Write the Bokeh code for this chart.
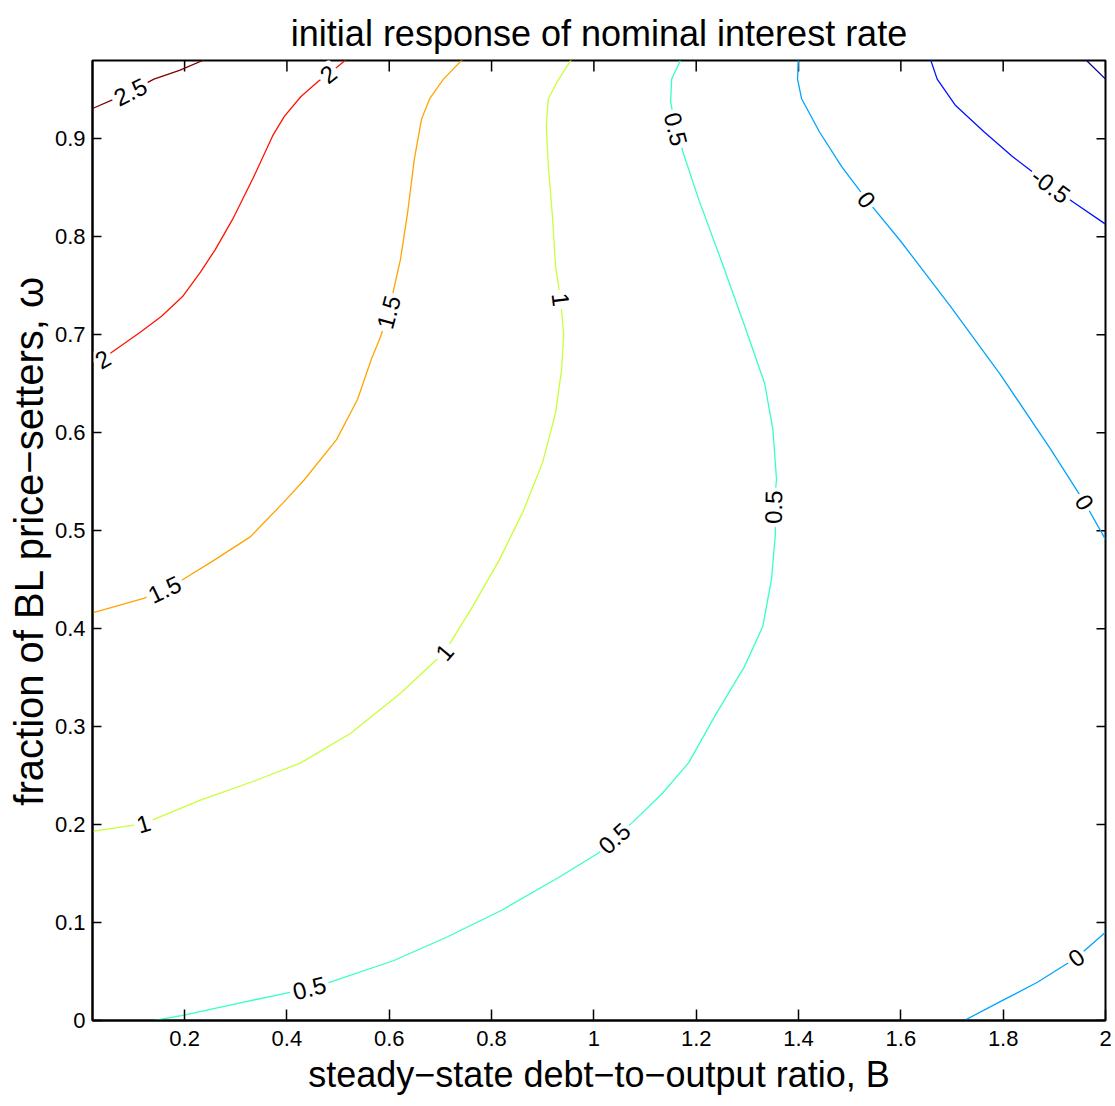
import math
from bokeh.plotting import figure
from bokeh.models import FixedTicker, CustomJSTickFormatter, Range1d, ColumnDataSource
from bokeh.core.properties import value
from bokeh.embed import file_html
from bokeh.resources import INLINE

# ---------------- data ----------------
title_text = "initial response of nominal interest rate"
x_label = "steady\u2212state debt\u2212to\u2212output ratio, B"
y_label = "fraction of BL price\u2212setters, \u03c9"

x_ticks = [0.2, 0.4, 0.6, 0.8, 1.0, 1.2, 1.4, 1.6, 1.8, 2.0]
y_ticks = [0.0, 0.1, 0.2, 0.3, 0.4, 0.5, 0.6, 0.7, 0.8, 0.9]
x_min, x_max = 0.02, 2.0
y_min, y_max = 0.0, 0.98

# contour level -1
c_m10_x = [1.961, 2.0]
c_m10_y = [0.981, 0.961]
# contour level -0.5
c_m05_x = [1.658, 1.671, 1.707, 1.763, 1.818, 1.893, 1.938, 2.0]
c_m05_y = [0.981, 0.961, 0.934, 0.907, 0.882, 0.852, 0.835, 0.813]
# contour level 0 (upper branch)
c_0a_x = [1.400, 1.398, 1.406, 1.441, 1.484, 1.533, 1.599, 1.697, 1.795, 1.893, 1.959, 2.0]
c_0a_y = [0.981, 0.961, 0.941, 0.907, 0.872, 0.838, 0.796, 0.729, 0.659, 0.583, 0.529, 0.491]
# contour level 0 (lower branch)
c_0b_x = [1.724, 1.797, 1.867, 1.943, 2.0]
c_0b_y = [0.0, 0.020, 0.039, 0.064, 0.090]
# contour level 0.5
c_05_x = [0.140, 0.194, 0.300, 0.399, 0.444, 0.483, 0.608, 0.712, 0.818, 0.931, 1.009, 1.040, 1.075,
          1.134, 1.185, 1.240, 1.294, 1.330, 1.347, 1.355, 1.351, 1.357, 1.350, 1.334, 1.294, 1.253,
          1.205, 1.177, 1.160, 1.150, 1.152, 1.169]
c_05_y = [0.0, 0.005, 0.017, 0.028, 0.033, 0.039, 0.061, 0.085, 0.112, 0.146, 0.171, 0.186, 0.202,
          0.232, 0.263, 0.314, 0.361, 0.402, 0.450, 0.498, 0.524, 0.552, 0.603, 0.650, 0.710, 0.770,
          0.838, 0.882, 0.910, 0.938, 0.961, 0.980]
# contour level 1
c_10_x = [0.02, 0.120, 0.231, 0.339, 0.427, 0.524, 0.622, 0.708, 0.760, 0.815, 0.862, 0.900, 0.925,
          0.937, 0.941, 0.935, 0.925, 0.919, 0.911, 0.907, 0.911, 0.929, 0.956]
c_10_y = [0.193, 0.201, 0.225, 0.245, 0.263, 0.293, 0.334, 0.376, 0.420, 0.470, 0.520, 0.570, 0.620,
          0.665, 0.700, 0.736, 0.770, 0.821, 0.872, 0.913, 0.941, 0.959, 0.981]
# contour level 1.5
c_15_x = [0.02, 0.120, 0.161, 0.196, 0.258, 0.329, 0.399, 0.434, 0.497, 0.538, 0.565, 0.583, 0.599,
          0.612, 0.622, 0.636, 0.649, 0.663, 0.679, 0.706, 0.743]
c_15_y = [0.416, 0.431, 0.440, 0.450, 0.470, 0.494, 0.532, 0.552, 0.593, 0.634, 0.675, 0.698, 0.723,
          0.754, 0.777, 0.825, 0.879, 0.920, 0.941, 0.961, 0.981]
# contour level 2
c_20_x = [0.02, 0.040, 0.057, 0.112, 0.155, 0.196, 0.231, 0.260, 0.294, 0.334, 0.372, 0.395, 0.427,
          0.462, 0.481, 0.516]
c_20_y = [0.671, 0.675, 0.682, 0.702, 0.719, 0.739, 0.764, 0.787, 0.818, 0.860, 0.903, 0.923, 0.943,
          0.959, 0.966, 0.981]
# contour level 2.5
c_25_x = [0.02, 0.06, 0.094, 0.14, 0.19, 0.24]
c_25_y = [0.931, 0.940, 0.948, 0.961, 0.970, 0.981]

contour_levels = [-1.0, -0.5, 0.0, 0.0, 0.5, 1.0, 1.5, 2.0, 2.5]
contour_xs = [c_m10_x, c_m05_x, c_0a_x, c_0b_x, c_05_x, c_10_x, c_15_x, c_20_x, c_25_x]
contour_ys = [c_m10_y, c_m05_y, c_0a_y, c_0b_y, c_05_y, c_10_y, c_15_y, c_20_y, c_25_y]

# inline contour labels (position on the line, text)
label_x = [0.094, 0.040, 0.481, 0.161, 0.599, 0.120, 0.708, 0.935, 0.444, 1.040, 1.351, 1.160,
           1.533, 1.959, 1.943, 1.893]
label_y = [0.948, 0.675, 0.966, 0.440, 0.723, 0.201, 0.376, 0.736, 0.033, 0.186, 0.524, 0.910,
           0.838, 0.529, 0.064, 0.852]
label_level = [2.5, 2.0, 2.0, 1.5, 1.5, 1.0, 1.0, 1.0, 0.5, 0.5, 0.5, 0.5, 0.0, 0.0, 0.0, -0.5]
label_text = ["2.5", "2", "2", "1.5", "1.5", "1", "1", "1", "0.5", "0.5", "0.5", "0.5",
              "0", "0", "0", "-0.5"]

# ---------------- styling helpers ----------------
W, H = 1115, 1106
BL, BR, BT, BB = 92, 10, 60, 86
frame_w, frame_h = W - BL - BR, H - BT - BB
sx = frame_w / (x_max - x_min)
sy = frame_h / (y_max - y_min)

CLIM = (-1.0, 2.5)


def jet(v):
    f = (v - CLIM[0]) / (CLIM[1] - CLIM[0])
    f = min(max(f, 0.0), 1.0)

    def ramp(a):
        return min(max(a, 0.0), 1.0)
    r = ramp(min(4 * f - 1.5, -4 * f + 4.5))
    g = ramp(min(4 * f - 0.5, -4 * f + 3.5))
    b = ramp(min(4 * f + 0.5, -4 * f + 2.5))
    return "#%02x%02x%02x" % (round(r * 255), round(g * 255), round(b * 255))


FONT = "Liberation Sans"

p = figure(width=W, height=H,
           x_range=Range1d(x_min, x_max), y_range=Range1d(y_min, y_max),
           output_backend="svg", toolbar_location=None,
           min_border_left=BL, min_border_right=BR, min_border_top=BT, min_border_bottom=BB)
p.grid.visible = False
p.background_fill_color = "white"
p.border_fill_color = "white"
p.outline_line_color = "black"
p.outline_line_width = 2

p.title.text = title_text
p.title.align = "center"
p.title.vertical_align = "top"
p.title.text_font = FONT
p.title.text_font_size = "36px"
p.title.text_line_height = 0.6
p.title.text_font_style = "normal"
p.title.text_color = "black"
p.title.standoff = 10

fmt = CustomJSTickFormatter(code="return String(Math.round(tick*10)/10);")

xa = p.xaxis[0]
xa.ticker = FixedTicker(ticks=x_ticks)
xa.formatter = fmt
xa.axis_label = x_label
ya = p.yaxis[0]
ya.ticker = FixedTicker(ticks=y_ticks)
ya.formatter = fmt
ya.axis_label = y_label

X_TICK, Y_TICK = 11, 9
for ax, tick_len in ((xa, X_TICK), (ya, Y_TICK)):
    ax.major_tick_in = tick_len
    ax.major_tick_out = 0
    ax.minor_tick_in = 0
    ax.minor_tick_out = 0
    ax.axis_line_width = 2
    ax.major_tick_line_width = 1.5
    ax.major_label_text_font = FONT
    ax.major_label_text_font_size = "22px"
    ax.major_label_text_color = "black"
    ax.axis_label_text_font_style = "normal"
    ax.axis_label_text_color = "black"
    ax.axis_label_text_font = FONT

xa.major_label_standoff = 10
xa.axis_label_standoff = 5
xa.axis_label_text_font_size = "36px"
ya.major_label_standoff = 7
ya.axis_label_standoff = 1
ya.axis_label_text_font_size = "40px"

# mirrored inward ticks on the top and right edges of the box
p.segment(x0=x_ticks, y0=[y_max] * len(x_ticks), x1=x_ticks,
          y1=[y_max - X_TICK / sy] * len(x_ticks), line_color="black", line_width=1.5)
p.segment(x0=[x_max] * len(y_ticks), y0=y_ticks, x1=[x_max - Y_TICK / sx] * len(y_ticks),
          y1=y_ticks, line_color="black", line_width=1.5)

# contour lines
for lev, xs, ys in zip(contour_levels, contour_xs, contour_ys):
    p.line(xs, ys, line_color=jet(lev), line_width=1.3)

# label angles follow the line direction on screen
angles = []
for lx, ly, lev in zip(label_x, label_y, label_level):
    best = None
    for clev, xs, ys in zip(contour_levels, contour_xs, contour_ys):
        if clev != lev:
            continue
        for i in range(len(xs)):
            d = ((xs[i] - lx) * sx) ** 2 + ((ys[i] - ly) * sy) ** 2
            if best is None or d < best[0]:
                best = (d, xs, ys, i)
    _, xs, ys, i = best
    i0, i1 = max(i - 1, 0), min(i + 1, len(xs) - 1)
    a = math.atan2((ys[i1] - ys[i0]) * sy, (xs[i1] - xs[i0]) * sx)
    while a > math.pi / 2:
        a -= math.pi
    while a <= -math.pi / 2:
        a += math.pi
    angles.append(a)

src = ColumnDataSource(dict(x=label_x, y=label_y, t=label_text, a=angles))
p.text(x="x", y="y", text="t", angle="a", source=src,
       text_font=value(FONT), text_font_size="24px", text_color="black",
       text_align="center", text_baseline="middle",
       background_fill_color="white", padding=3)

open("out.html", "w").write(file_html(p, INLINE))
